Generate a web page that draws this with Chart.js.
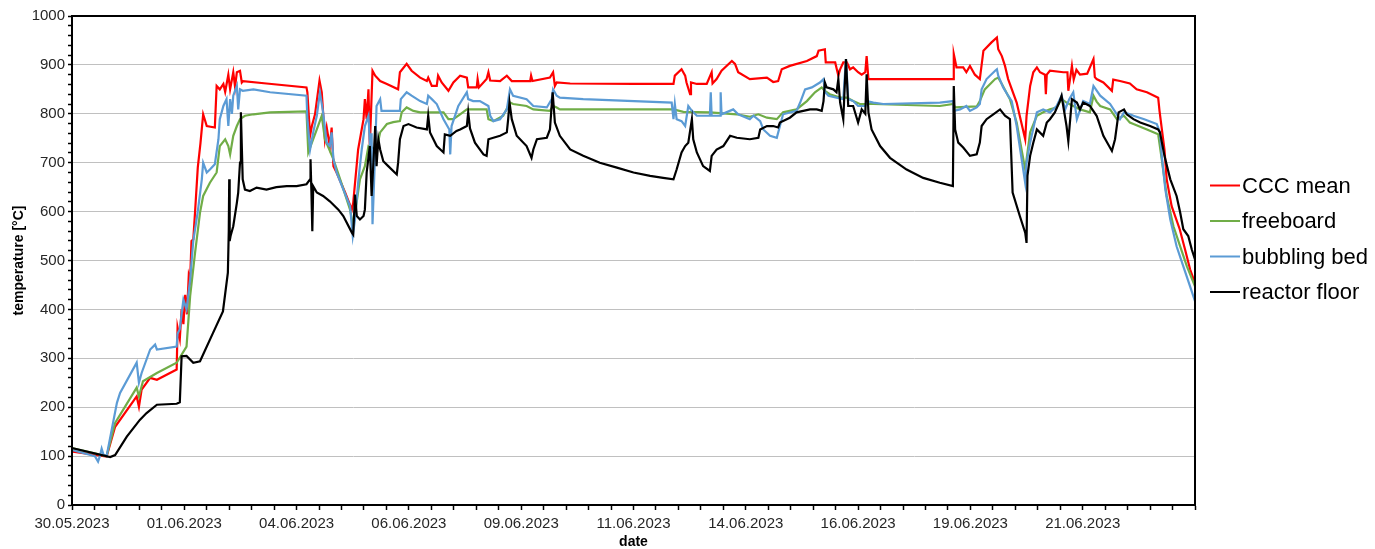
<!DOCTYPE html>
<html>
<head>
<meta charset="utf-8">
<script src="https://cdn.jsdelivr.net/npm/chart.js@4"></script>
<style>
  html, body { margin: 0; padding: 0; background: #fff; }
  #wrap { width: 1375px; height: 549px; }
</style>
</head>
<body>
<div id="wrap"><canvas id="tempChart" width="1375" height="549"></canvas></div>
<script>
// x = days since 30.05.2023 00:00, y = temperature in °C
const dateLabels = ['30.05.2023', '01.06.2023', '04.06.2023', '06.06.2023', '09.06.2023',
  '11.06.2023', '14.06.2023', '16.06.2023', '19.06.2023', '21.06.2023'];
const seriesNames = ['CCC mean', 'freeboard', 'bubbling bed', 'reactor floor'];
const seriesColors = ['#ff0000', '#70ad47', '#5b9bd5', '#000000'];

const cccMean = [[0.02,109],[0.77,99],[0.96,160],[1.44,222],[1.49,201],[1.55,236],[1.74,260],[1.89,256],[2.33,277],[2.35,363],[2.40,340],[2.44,400],[2.48,370],[2.52,430],[2.56,390],[2.60,470],[2.63,460],[2.66,540],[2.70,543],[2.74,600],[2.80,690],[2.86,740],[2.92,799],[3.00,775],[3.18,772],[3.22,857],[3.29,850],[3.37,861],[3.41,845],[3.48,880],[3.52,850],[3.59,885],[3.63,855],[3.67,885],[3.74,888],[3.78,864],[3.81,867],[4.33,862],[5.22,854],[5.24,844],[5.30,755],[5.34,775],[5.41,799],[5.51,868],[5.56,844],[5.63,748],[5.67,772],[5.74,734],[5.78,772],[5.82,693],[5.89,680],[6.08,639],[6.23,604],[6.26,618],[6.37,727],[6.49,789],[6.52,830],[6.56,789],[6.60,850],[6.63,734],[6.69,888],[6.75,878],[6.86,867],[7.01,861],[7.26,850],[7.30,885],[7.45,902],[7.56,888],[7.75,874],[7.90,867],[7.93,874],[8.01,857],[8.12,857],[8.15,878],[8.23,864],[8.38,847],[8.49,864],[8.64,878],[8.79,874],[8.82,854],[9.01,854],[9.03,871],[9.06,854],[9.23,871],[9.27,885],[9.31,868],[9.53,867],[9.68,878],[9.79,867],[10.20,867],[10.22,878],[10.25,867],[10.64,874],[10.71,885],[10.75,857],[10.79,864],[11.09,862],[12.5,861],[13.39,861],[13.42,878],[13.57,891],[13.65,878],[13.68,864],[13.76,840],[13.78,864],[13.91,861],[14.13,861],[14.24,885],[14.26,862],[14.35,871],[14.46,888],[14.69,908],[14.76,902],[14.83,885],[15.09,871],[15.47,874],[15.61,865],[15.72,867],[15.80,891],[15.98,898],[16.36,908],[16.58,918],[16.62,929],[16.76,932],[16.78,905],[16.99,905],[17.06,878],[17.10,891],[17.17,905],[17.25,905],[17.32,891],[17.39,895],[17.50,885],[17.58,880],[17.66,885],[17.69,918],[17.73,871],[18.06,871],[19.10,871],[19.62,871],[19.63,922],[19.69,895],[19.84,895],[19.91,885],[19.99,898],[20.10,880],[20.21,871],[20.29,929],[20.47,946],[20.59,956],[20.62,932],[20.70,918],[20.77,898],[20.84,871],[21.03,823],[21.22,748],[21.25,796],[21.33,857],[21.40,885],[21.48,895],[21.55,885],[21.66,880],[21.68,840],[21.70,880],[21.77,888],[22.07,885],[22.16,885],[22.18,847],[22.26,898],[22.30,870],[22.36,890],[22.44,880],[22.60,882],[22.74,912],[22.77,875],[22.81,871],[22.96,864],[23.15,847],[23.18,870],[23.33,867],[23.55,862],[23.70,850],[23.93,844],[24.18,833],[24.21,806],[24.32,727],[24.37,666],[24.48,611],[24.66,564],[24.78,522],[24.89,482],[25.0,454]];

const freeboard = [[0.02,116],[0.77,100],[0.96,168],[1.44,240],[1.49,222],[1.58,253],[1.89,270],[2.33,291],[2.55,324],[2.63,427],[2.74,516],[2.85,598],[2.92,632],[3.07,659],[3.22,680],[3.29,734],[3.41,748],[3.48,734],[3.52,717],[3.59,755],[3.67,775],[3.74,789],[3.85,796],[4.04,799],[4.41,803],[5.22,805],[5.26,721],[5.45,768],[5.56,796],[5.63,748],[5.82,707],[5.97,666],[6.19,604],[6.26,570],[6.41,666],[6.52,693],[6.60,734],[6.78,727],[6.86,762],[7.01,779],[7.15,783],[7.30,785],[7.34,803],[7.45,813],[7.60,806],[7.75,803],[8.27,803],[8.38,789],[8.49,789],[8.64,799],[8.79,809],[9.23,809],[9.27,789],[9.38,785],[9.60,796],[9.75,823],[9.82,820],[10.12,816],[10.27,809],[10.64,806],[10.71,816],[10.79,813],[10.86,809],[13.39,809],[13.61,804],[14.20,803],[14.80,799],[15.09,794],[15.28,799],[15.47,792],[15.69,789],[15.83,803],[16.13,809],[16.36,826],[16.54,844],[16.69,854],[16.76,847],[16.87,840],[17.10,833],[17.25,833],[17.39,826],[17.54,820],[17.84,820],[19.32,816],[19.62,820],[19.66,813],[20.14,815],[20.21,826],[20.32,850],[20.55,871],[20.62,874],[20.70,861],[20.88,830],[21.03,782],[21.22,686],[21.33,762],[21.48,796],[21.62,803],[21.77,809],[21.92,813],[22.03,830],[22.14,823],[22.29,816],[22.44,809],[22.66,803],[22.74,837],[22.81,825],[22.89,816],[23.11,809],[23.26,789],[23.42,796],[23.55,782],[23.63,779],[23.93,768],[24.18,758],[24.26,707],[24.37,632],[24.52,570],[24.67,529],[24.82,488],[25.0,447]];

const bubblingBed = [[0.02,112],[0.51,100],[0.58,89],[0.62,100],[0.66,115],[0.70,103],[0.77,100],[1.00,209],[1.07,229],[1.44,291],[1.49,250],[1.55,270],[1.74,318],[1.85,328],[1.89,318],[2.33,324],[2.35,350],[2.40,360],[2.48,420],[2.55,400],[2.63,461],[2.70,540],[2.80,600],[2.89,666],[2.92,700],[3.00,680],[3.07,686],[3.18,697],[3.26,748],[3.29,789],[3.37,816],[3.44,830],[3.48,775],[3.52,830],[3.56,800],[3.59,837],[3.67,857],[3.70,809],[3.74,850],[3.80,847],[4.04,850],[4.41,844],[5.22,837],[5.24,789],[5.30,727],[5.37,762],[5.45,796],[5.52,844],[5.59,803],[5.67,741],[5.74,734],[5.78,762],[5.82,707],[5.89,680],[6.19,611],[6.25,550],[6.30,584],[6.37,659],[6.45,727],[6.52,775],[6.60,796],[6.63,740],[6.67,760],[6.69,574],[6.74,700],[6.78,816],[6.86,830],[6.89,806],[7.30,806],[7.32,830],[7.45,844],[7.56,837],[7.75,826],[7.90,820],[7.93,837],[8.01,830],[8.12,820],[8.27,789],[8.40,768],[8.42,717],[8.45,775],[8.60,816],[8.79,844],[8.82,830],[8.93,826],[9.08,826],[9.27,816],[9.31,796],[9.38,785],[9.53,789],[9.68,809],[9.75,850],[9.82,837],[10.12,830],[10.27,816],[10.57,813],[10.68,830],[10.71,850],[10.79,837],[10.86,833],[11.38,830],[13.35,823],[13.39,789],[13.42,820],[13.46,789],[13.57,785],[13.65,775],[13.72,816],[13.80,806],[13.91,796],[14.20,796],[14.22,844],[14.24,796],[14.43,796],[14.44,844],[14.46,799],[14.72,809],[14.83,799],[15.09,789],[15.17,796],[15.32,785],[15.39,768],[15.54,755],[15.69,751],[15.76,775],[15.83,799],[16.13,806],[16.21,823],[16.32,850],[16.47,854],[16.65,864],[16.73,871],[16.76,845],[16.84,837],[17.02,833],[17.17,830],[17.23,912],[17.28,830],[17.39,826],[17.50,816],[17.66,816],[17.69,826],[17.84,823],[18.06,820],[19.32,823],[19.62,826],[19.63,806],[19.77,809],[19.91,816],[19.99,806],[20.14,813],[20.21,820],[20.25,850],[20.36,871],[20.55,888],[20.59,891],[20.62,878],[20.73,854],[20.84,837],[20.92,826],[21.03,775],[21.22,659],[21.25,700],[21.33,741],[21.48,803],[21.62,809],[21.77,803],[21.92,816],[22.03,837],[22.11,809],[22.20,830],[22.29,844],[22.37,789],[22.51,826],[22.66,820],[22.74,857],[22.89,837],[23.11,820],[23.26,799],[23.33,789],[23.42,803],[23.55,799],[23.63,796],[23.87,789],[24.15,779],[24.22,762],[24.26,714],[24.34,645],[24.45,584],[24.59,529],[24.74,488],[24.89,447],[25.0,417]];

const reactorFloor = [[0.02,116],[0.85,98],[0.96,102],[1.22,140],[1.51,174],[1.66,188],[1.89,205],[2.33,207],[2.40,210],[2.44,304],[2.55,305],[2.70,291],[2.85,294],[3.14,352],[3.36,396],[3.47,475],[3.49,560],[3.50,666],[3.51,540],[3.53,550],[3.59,570],[3.67,618],[3.70,639],[3.74,700],[3.76,803],[3.80,666],[3.85,645],[3.96,642],[4.11,649],[4.33,645],[4.55,650],[4.78,652],[5.0,652],[5.22,656],[5.30,666],[5.31,707],[5.33,640],[5.35,560],[5.37,652],[5.45,639],[5.59,632],[5.74,621],[5.93,604],[6.04,591],[6.23,557],[6.26,553],[6.30,635],[6.34,591],[6.41,584],[6.49,591],[6.52,604],[6.56,680],[6.63,734],[6.67,632],[6.71,700],[6.75,775],[6.78,693],[6.82,748],[6.86,727],[6.93,703],[7.04,693],[7.23,676],[7.26,700],[7.30,748],[7.38,775],[7.49,779],[7.67,772],[7.90,768],[7.93,796],[7.97,762],[8.12,734],[8.27,721],[8.30,758],[8.42,755],[8.56,765],[8.64,768],[8.79,775],[8.82,803],[8.86,770],[8.97,741],[9.16,717],[9.23,714],[9.27,748],[9.38,751],[9.53,755],[9.68,762],[9.71,789],[9.74,823],[9.79,789],[9.90,755],[10.12,734],[10.23,710],[10.27,727],[10.35,748],[10.57,751],[10.64,768],[10.70,844],[10.75,782],[10.86,755],[11.09,727],[11.38,714],[11.75,700],[12.13,690],[12.50,680],[12.87,673],[13.16,669],[13.39,666],[13.46,686],[13.57,721],[13.65,734],[13.72,741],[13.80,789],[13.83,748],[13.91,721],[14.05,693],[14.20,683],[14.24,714],[14.35,727],[14.50,734],[14.65,755],[14.80,751],[15.09,748],[15.28,751],[15.32,768],[15.47,775],[15.61,775],[15.72,772],[15.76,782],[15.98,792],[16.13,803],[16.28,806],[16.43,809],[16.58,809],[16.69,806],[16.73,826],[16.76,864],[16.80,854],[16.95,850],[17.02,844],[17.06,871],[17.10,823],[17.17,789],[17.23,912],[17.28,816],[17.39,816],[17.50,782],[17.58,809],[17.66,800],[17.69,881],[17.73,803],[17.80,768],[17.99,734],[18.21,710],[18.58,686],[18.95,669],[19.32,659],[19.61,652],[19.63,857],[19.66,768],[19.73,741],[19.84,731],[19.99,714],[20.14,717],[20.21,741],[20.25,775],[20.36,789],[20.51,799],[20.66,809],[20.77,796],[20.88,789],[20.94,639],[21.10,591],[21.22,557],[21.25,536],[21.27,673],[21.33,714],[21.40,741],[21.48,768],[21.62,755],[21.70,782],[21.77,789],[21.88,803],[21.99,826],[22.03,837],[22.14,775],[22.18,744],[22.26,830],[22.37,823],[22.44,809],[22.51,823],[22.66,816],[22.81,796],[22.96,755],[23.15,724],[23.22,748],[23.30,803],[23.42,809],[23.48,799],[23.63,789],[23.78,782],[24.00,775],[24.18,768],[24.22,762],[24.32,714],[24.45,666],[24.59,632],[24.67,598],[24.74,564],[24.85,550],[24.93,522],[25.0,502]];

const allSeries = [cccMean, freeboard, bubblingBed, reactorFloor];
const fontFamily = "'Liberation Sans', Arial, sans-serif";

// black frame round the plot area
const plotFrame = {
  id: 'plotFrame',
  afterDatasetsDraw(chart) {
    const { ctx, chartArea: a } = chart;
    ctx.save();
    ctx.strokeStyle = '#000';
    ctx.lineWidth = 2;
    ctx.strokeRect(a.left, a.top, a.right - a.left, a.bottom - a.top);
    ctx.restore();
  }
};

// legend to the right of the plot, line + label
const sideLegend = {
  id: 'sideLegend',
  afterDraw(chart) {
    const ctx = chart.ctx;
    ctx.save();
    ctx.font = `22px ${fontFamily}`;
    ctx.textBaseline = 'middle';
    seriesNames.forEach((name, i) => {
      const y = 185.5 + i * 35.5;
      ctx.strokeStyle = seriesColors[i];
      ctx.lineWidth = 2;
      ctx.beginPath();
      ctx.moveTo(1210, y);
      ctx.lineTo(1240, y);
      ctx.stroke();
      ctx.fillStyle = '#000';
      ctx.fillText(name, 1242, y + 1);
    });
    ctx.restore();
  }
};

const datasets = allSeries.map((pts, i) => ({
  label: seriesNames[i],
  data: pts.map(([x, y]) => ({ x, y })),
  borderColor: seriesColors[i],
  backgroundColor: seriesColors[i],
  borderWidth: 2.2,
  pointRadius: 0,
  tension: 0,
  order: 4 - i
}));

new Chart(document.getElementById('tempChart'), {
  type: 'line',
  data: { datasets },
  options: {
    responsive: false,
    animation: false,
    devicePixelRatio: 1,
    layout: { padding: { top: 16, right: 180, bottom: 0, left: 0 } },
    plugins: {
      legend: { display: false },
      tooltip: { enabled: false }
    },
    scales: {
      x: {
        type: 'linear',
        min: 0,
        max: 25,
        afterFit: (scale) => { scale.height = 44; },
        afterBuildTicks: (scale) => {
          const t = [];
          for (let i = 0; i <= 50; i++) t.push({ value: i / 2 });
          scale.ticks = t;
        },
        ticks: {
          autoSkip: false,
          maxRotation: 0,
          padding: 5,
          color: '#262626',
          font: { family: fontFamily, size: 15 },
          callback: (value) => {
            const k = value / 2.5;
            return Number.isInteger(k) && dateLabels[k] ? dateLabels[k] : '';
          }
        },
        grid: {
          drawOnChartArea: false,
          tickLength: 5,
          tickColor: '#000',
          tickWidth: 1.5
        },
        border: { color: '#000', width: 2 },
        title: {
          display: true,
          text: 'date',
          color: '#000',
          padding: { top: 0, bottom: 0 },
          font: { family: fontFamily, size: 14, weight: 'bold', lineHeight: 1.0 }
        }
      },
      y: {
        min: 0,
        max: 1000,
        afterFit: (scale) => { scale.width = 72; },
        afterBuildTicks: (scale) => {
          const t = [];
          for (let v = 0; v <= 1000; v += 20) t.push({ value: v });
          scale.ticks = t;
        },
        ticks: {
          autoSkip: false,
          padding: 3,
          color: '#262626',
          font: { family: fontFamily, size: 15 },
          callback: (value) => (value % 100 === 0 ? value : '')
        },
        grid: {
          color: (c) => (c.tick && c.tick.value % 100 === 0 && c.tick.value > 0 && c.tick.value < 1000 ? '#c0c0c0' : 'rgba(0,0,0,0)'),
          lineWidth: 1,
          tickLength: 4,
          tickColor: '#000',
          tickWidth: 1.5
        },
        border: { color: '#000', width: 2 },
        title: {
          display: true,
          text: 'temperature [°C]',
          color: '#000',
          padding: { top: 11, bottom: 0 },
          font: { family: fontFamily, size: 14, weight: 'bold' }
        }
      }
    }
  },
  plugins: [plotFrame, sideLegend]
});
</script>
</body>
</html>
